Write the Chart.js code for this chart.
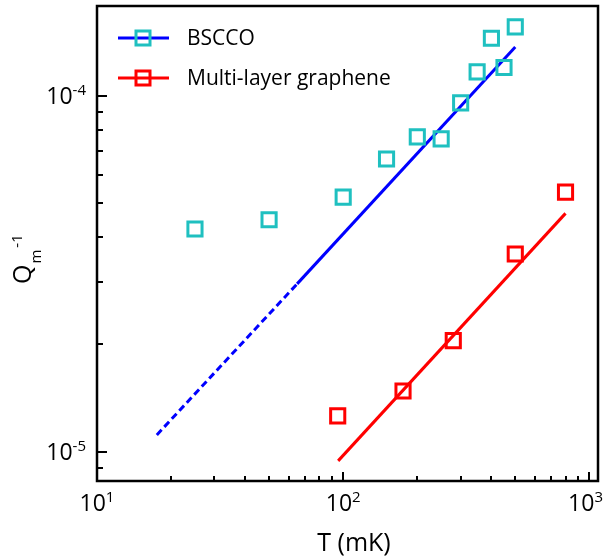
<!DOCTYPE html>
<html>
<head>
<meta charset="utf-8">
<script src="https://cdn.jsdelivr.net/npm/chart.js@4"></script>
<style>
  html, body { margin: 0; padding: 0; background: #fff; }
  #wrap { width: 604px; height: 556px; }
</style>
</head>
<body>
<div id="wrap"><canvas id="qChart"></canvas></div>
<script>
/* DATA */
const bsccoT = [25, 50, 100, 150, 200, 250, 300, 350, 400, 450, 500];
const bsccoQ = [4.22e-5, 4.48e-5, 5.19e-5, 6.64e-5, 7.66e-5, 7.56e-5, 9.54e-5, 1.166e-4, 1.45e-4, 1.2e-4, 1.56e-4];
const grapheneT = [95, 175, 280, 500, 800];
const grapheneQ = [1.26e-5, 1.48e-5, 2.05e-5, 3.59e-5, 5.36e-5];

// fit lines (solid part + dashed extrapolation for BSCCO)
const bsccoFitT = [65, 500];
const bsccoFitQ = [2.96e-5, 1.37e-4];
const bsccoExtT = [17.5, 65];
const bsccoExtQ = [1.114e-5, 2.96e-5];
const grapheneFitT = [95.4, 800];
const grapheneFitQ = [9.42e-6, 4.67e-5];

// axes
const xRange = [10, 1084];
const yRange = [8.27e-6, 1.786e-4];
const xTickExp = [1, 2, 3];
const yTickExp = [-5, -4];

const BLUE = "#0000ff";
const CYAN = "#1fc0c0";
const RED = "#ff0000";
const FONT = '"Open Sans", sans-serif';

const pts = (xs, ys) => xs.map((x, i) => ({ x, y: ys[i] }));

/* "10" with a raised exponent */
function powLabel(ctx, exp, x, y, align) {
  const base = "10";
  const sup = String(exp);
  ctx.font = "23px " + FONT;
  const wb = ctx.measureText(base).width;
  ctx.font = "15px " + FONT;
  const ws = ctx.measureText(sup).width;
  let x0 = align === "right" ? x - wb - ws : x - (wb + ws) / 2;
  x0 = Math.min(x0, 603 - wb - ws); // keep inside the canvas
  ctx.textAlign = "left";
  ctx.textBaseline = "alphabetic";
  ctx.font = "23px " + FONT;
  ctx.fillText(base, x0, y);
  ctx.font = "15px " + FONT;
  ctx.fillText(sup, x0 + wb, y - 9);
}

/* frame, inward ticks, labels, legend */
const framePlugin = {
  id: "frame",
  afterDraw(chart) {
    const { ctx, chartArea: a, scales } = chart;
    const xs = scales.x, ys = scales.y;
    ctx.save();
    ctx.fillStyle = "#000";
    ctx.strokeStyle = "#000";

    // ticks
    ctx.lineWidth = 2;
    ctx.beginPath();
    for (let e = 0; e <= 3; e++) {
      for (let m = 1; m <= 9; m++) {
        const v = m * Math.pow(10, e);
        if (v < xRange[0] || v > xRange[1]) continue;
        const px = Math.round(xs.getPixelForValue(v));
        ctx.moveTo(px, a.bottom);
        ctx.lineTo(px, a.bottom - (m === 1 ? 9 : 5));
      }
    }
    for (let e = -6; e <= -3; e++) {
      for (let m = 1; m <= 9; m++) {
        const v = m * Math.pow(10, e);
        if (v < yRange[0] || v > yRange[1]) continue;
        const py = Math.round(ys.getPixelForValue(v));
        ctx.moveTo(a.left, py);
        ctx.lineTo(a.left + (m === 1 ? 10 : 6), py);
      }
    }
    ctx.stroke();

    // box
    ctx.lineWidth = 2.5;
    ctx.strokeRect(a.left, a.top, a.right - a.left, a.bottom - a.top);

    // tick labels
    xTickExp.forEach((e) => powLabel(ctx, e, xs.getPixelForValue(Math.pow(10, e)), 511, "center"));
    yTickExp.forEach((e) => powLabel(ctx, e, 86, ys.getPixelForValue(Math.pow(10, e)) + 8.5, "right"));

    // x title
    ctx.font = "25px " + FONT;
    ctx.textAlign = "center";
    ctx.fillText("T (mK)", 354, 551);

    // y title: Q_m^-1
    ctx.save();
    ctx.translate(31, 284);
    ctx.rotate(-Math.PI / 2);
    ctx.textAlign = "left";
    ctx.font = "25px " + FONT;
    const wq = ctx.measureText("Q").width;
    ctx.fillText("Q", 0, 0);
    ctx.font = "15px " + FONT;
    const wm = ctx.measureText("m").width;
    ctx.fillText("m", wq + 1, 10);
    ctx.fillText("-1", wq + wm + 3, -9);
    ctx.restore();

    // legend
    const rows = [
      { label: chart.data.datasets[0].label, line: BLUE, mark: CYAN, y: 38 },
      { label: chart.data.datasets[1].label, line: RED, mark: RED, y: 78 },
    ];
    rows.forEach((r) => {
      ctx.strokeStyle = r.line;
      ctx.lineWidth = 3;
      ctx.beginPath();
      ctx.moveTo(118, r.y);
      ctx.lineTo(169, r.y);
      ctx.stroke();
      ctx.strokeStyle = r.mark;
      ctx.lineWidth = 3;
      ctx.strokeRect(136, r.y - 7, 14, 14);
      ctx.fillStyle = "#000";
      ctx.font = "21px " + FONT;
      ctx.textAlign = "left";
      ctx.textBaseline = "middle";
      ctx.fillText(r.label, 187, r.y + 1);
    });
    ctx.restore();
  },
};

new Chart(document.getElementById("qChart"), {
  type: "scatter",
  data: {
    datasets: [
      {
        label: "BSCCO",
        data: pts(bsccoT, bsccoQ),
        pointStyle: "rect",
        pointRadius: 10,
        pointBorderWidth: 3,
        pointBorderColor: CYAN,
        pointBackgroundColor: "rgba(0,0,0,0)",
      },
      {
        label: "Multi-layer graphene",
        data: pts(grapheneT, grapheneQ),
        pointStyle: "rect",
        pointRadius: 10,
        pointBorderWidth: 3,
        pointBorderColor: RED,
        pointBackgroundColor: "rgba(0,0,0,0)",
      },
      {
        label: "BSCCO fit",
        data: pts(bsccoFitT, bsccoFitQ),
        showLine: true,
        borderColor: BLUE,
        borderWidth: 3,
        pointRadius: 0,
      },
      {
        label: "BSCCO fit (extrapolated)",
        data: pts(bsccoExtT, bsccoExtQ),
        showLine: true,
        borderColor: BLUE,
        borderWidth: 3,
        borderDash: [7, 4],
        pointRadius: 0,
      },
      {
        label: "Graphene fit",
        data: pts(grapheneFitT, grapheneFitQ),
        showLine: true,
        borderColor: RED,
        borderWidth: 3,
        pointRadius: 0,
      },
    ],
  },
  options: {
    responsive: true,
    maintainAspectRatio: false,
    animation: false,
    layout: { autoPadding: false, padding: { left: 97, top: 6, right: 6, bottom: 75 } },
    plugins: { legend: { display: false }, tooltip: { enabled: false } },
    scales: {
      x: { type: "logarithmic", min: xRange[0], max: xRange[1], display: false },
      y: { type: "logarithmic", min: yRange[0], max: yRange[1], display: false },
    },
  },
  plugins: [framePlugin],
});
</script>
</body>
</html>
